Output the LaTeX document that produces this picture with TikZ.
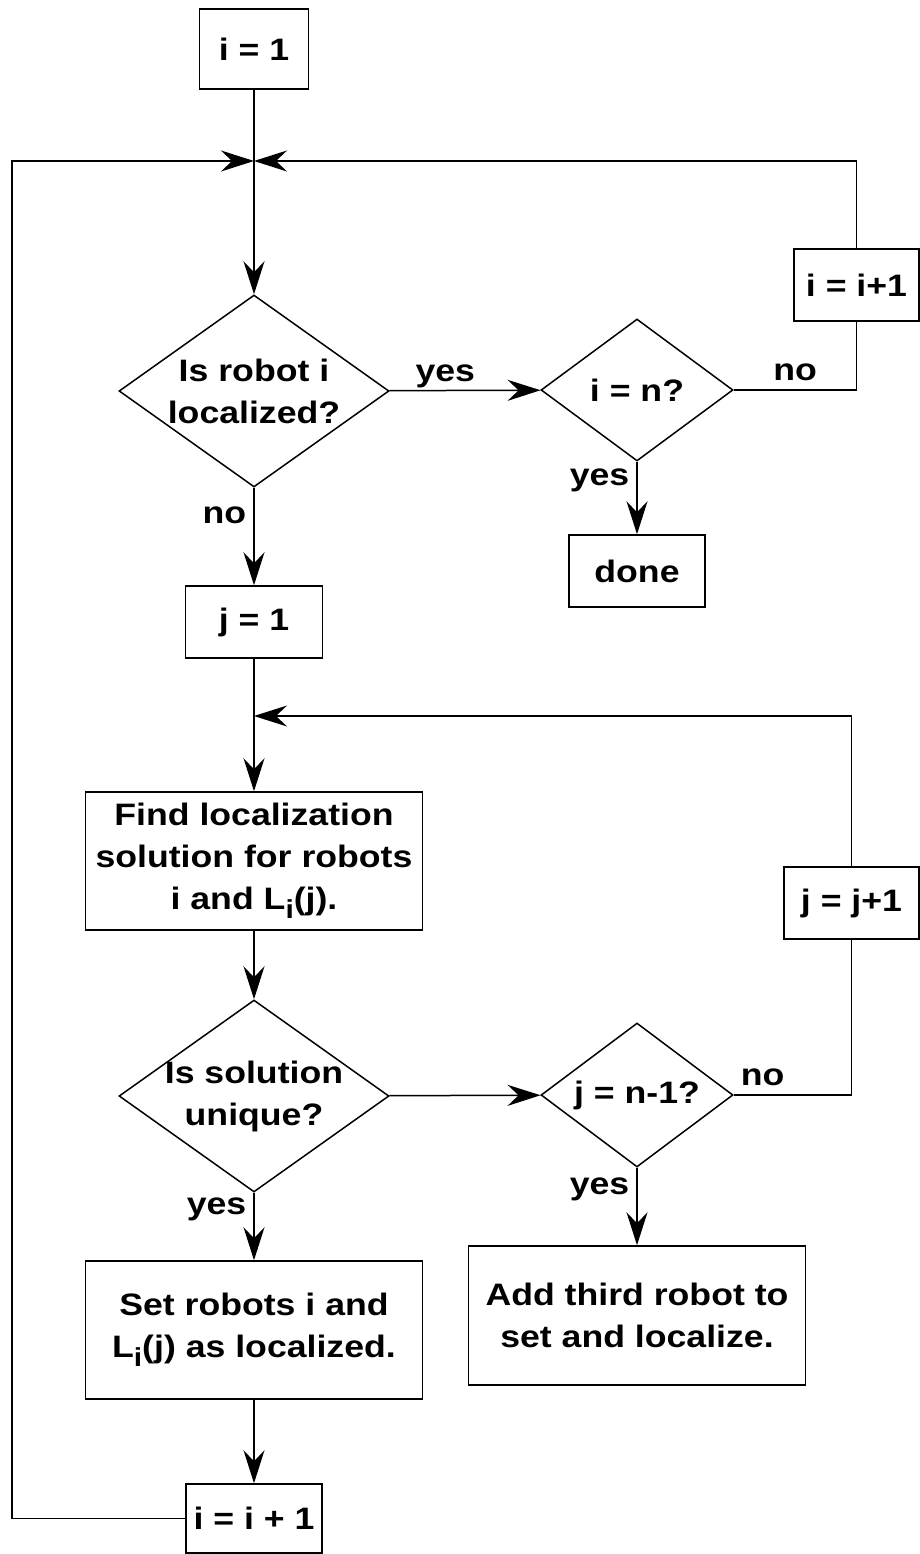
\documentclass[tikz,border=0pt]{standalone}
\usepackage{fontspec}
\setmainfont{Liberation Sans}[FakeStretch=1.15]
\usetikzlibrary{shapes.geometric,arrows.meta}
\newcommand{\Lsub}{L\raisebox{-9pt}{\fontsize{26}{26}\selectfont i}(j)}

\begin{document}
\begin{tikzpicture}
    [x=1pt, y=-1pt, >={Stealth[length=33pt,width=21pt,inset=11pt]}, line width=1.5pt,
    every node/.style={font=\bfseries\fontsize{31}{42}\selectfont}]
    % Define styles for steps, decisions and branch labels
    \tikzstyle{stepbox} = [draw, rectangle, align=center, inner sep=0pt]
    \tikzstyle{decision} = [draw, diamond, align=center, aspect=1.4, inner xsep=0pt, inner ysep=-12pt]
    \tikzstyle{branch} = [inner xsep=7pt, inner ysep=6pt, text height=0.72em, text depth=0.25em]
    \tikzstyle{flow} = [->]

    \useasboundingbox (0,0) rectangle (920,1554);

    % Nodes placement
    \node [stepbox, minimum width=109pt, minimum height=80pt] (init) at (254,49) {i = 1};
    \coordinate (ijoin) at (254,161);
    \node [decision, minimum width=270pt, minimum height=192pt] (robotq) at (254,391) {Is robot i\\localized?};
    \node [decision, minimum width=192pt, minimum height=142pt] (lastq) at (637,390) {i = n?};
    \node [stepbox, minimum width=125pt, minimum height=72pt] (nexti) at (856.5,285) {i = i+1};
    \node [stepbox, minimum width=136pt, minimum height=72pt] (done) at (637,571) {done};
    \node [stepbox, minimum width=137pt, minimum height=72pt] (firstj) at (254,622) {j = 1};
    \coordinate (jjoin) at (254,716);
    \node [stepbox, minimum width=337pt, minimum height=138pt] (solve) at (254,861) {Find localization\\solution for robots\\i and \Lsub.};
    \node [stepbox, minimum width=135pt, minimum height=72pt] (nextj) at (851.5,903) {j = j+1};
    \node [decision, minimum width=270pt, minimum height=192pt] (uniqueq) at (254,1096) {Is solution\\unique?};
    \node [decision, minimum width=192pt, minimum height=144pt] (lastj) at (637,1095) {j = n-1?};
    \node [stepbox, minimum width=337pt, minimum height=138pt] (mark) at (254,1330) {Set robots i and\\\Lsub{} as localized.};
    \node [stepbox, minimum width=337pt, minimum height=139pt] (third) at (637,1315.5) {Add third robot to\\set and localize.};
    \node [stepbox, minimum width=136pt, minimum height=69pt] (advance) at (254,1518.5) {i = i + 1};
    \coordinate (loopcorner) at (12,1518.5);

    % Draw edges
    \draw (init) -- (ijoin);
    \draw[flow] (ijoin) -- (robotq);
    \draw[flow] (robotq) -- node[branch, pos=0.37, above] {yes} (lastq);
    \draw (lastq) -| node[branch, pos=0.25, above] {no} (nexti);
    \draw[flow] (nexti) |- (ijoin);
    \draw[flow] (lastq) -- node[branch, pos=0.3, left] {yes} (done);
    \draw[flow] (robotq) -- node[branch, pos=0.34, left] {no} (firstj);
    \draw (firstj) -- (jjoin);
    \draw[flow] (jjoin) -- (solve);
    \draw[flow] (solve) -- (uniqueq);
    \draw[flow] (uniqueq) -- (lastj);
    \draw (lastj) -| node[branch, pos=0.123, above] {no} (nextj);
    \draw[flow] (nextj) |- (jjoin);
    \draw[flow] (lastj) -- node[branch, pos=0.32, left] {yes} (third);
    \draw[flow] (uniqueq) -- node[branch, pos=0.29, left] {yes} (mark);
    \draw[flow] (mark) -- (advance);

    % Loop back from the last step to the top
    \draw[flow] (advance) -- (loopcorner) |- (ijoin);
\end{tikzpicture}
\end{document}
